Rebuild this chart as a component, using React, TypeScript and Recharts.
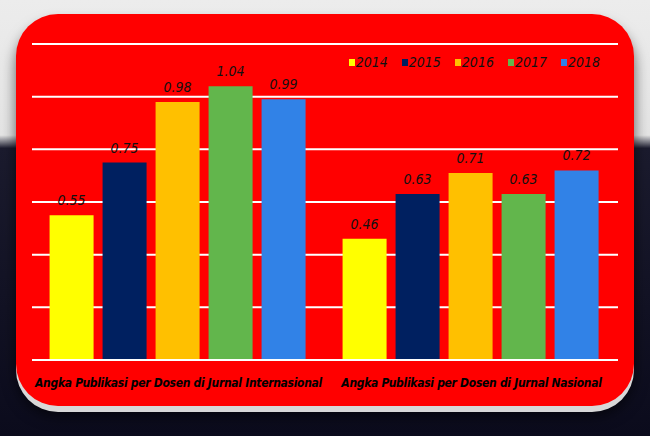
import { BarChart, Bar, XAxis, YAxis, CartesianGrid, Legend, LabelList } from "recharts";

const categories = [
  "Angka Publikasi per Dosen di Jurnal Internasional",
  "Angka Publikasi per Dosen di Jurnal Nasional",
];
const years = ["2014", "2015", "2016", "2017", "2018"];
const v2014 = [0.55, 0.46];
const v2015 = [0.75, 0.63];
const v2016 = [0.98, 0.71];
const v2017 = [1.04, 0.63];
const v2018 = [0.99, 0.72];
const yTicks = [0, 0.2, 0.4, 0.6, 0.8, 1.0, 1.2];

const colors = ["#FFFF00", "#002060", "#FFC000", "#62B64C", "#3182E7"];
const seriesValues = [v2014, v2015, v2016, v2017, v2018];

const data = categories.map((name, i) => {
  const row: Record<string, string | number> = { name };
  years.forEach((y, k) => {
    row[y] = seriesValues[k][i];
  });
  return row;
});

const font = "'DejaVu Sans Condensed', 'Liberation Sans', Arial, sans-serif";

function LegendContent() {
  return (
    <div style={{ display: "flex", justifyContent: "flex-end", gap: 14, paddingRight: 18 }}>
      {years.map((y, i) => (
        <span key={y} style={{ display: "flex", alignItems: "center", gap: 1 }}>
          <span style={{ width: 6, height: 7, background: colors[i], display: "inline-block" }} />
          <span style={{ fontFamily: font, fontStyle: "italic", fontSize: 14, color: "#111" }}>{y}</span>
        </span>
      ))}
    </div>
  );
}

export default function App() {
  return (
    <div
      style={{
        position: "fixed",
        left: 0,
        top: 0,
        width: 650,
        height: 436,
        background: "linear-gradient(to bottom, #ececec 0%, #e4e4e4 31%, #1b1b2e 34%, #0b0b1c 100%)",
        overflow: "hidden",
      }}
    >
      <div
        style={{
          position: "absolute",
          left: 16,
          top: 14,
          width: 618,
          height: 392,
          background: "#FF0000",
          borderRadius: 42,
          boxShadow: "0 6px 0 #d8d8d8, 0 10px 14px rgba(0,0,0,0.6)",
        }}
      >
        <BarChart
          width={618}
          height={392}
          data={data}
          margin={{ top: 14, right: 16, bottom: 16, left: 16 }}
          barCategoryGap="6%"
          barGap={9}
        >
          <CartesianGrid vertical={false} stroke="#ffffff" strokeWidth={2} />
          <YAxis hide domain={[0, 1.2]} ticks={yTicks} />
          <XAxis
            dataKey="name"
            axisLine={{ stroke: "#ffffff", strokeWidth: 2 }}
            tickLine={false}
            interval={0}
            tick={{ fill: "#000", fontFamily: font, fontStyle: "italic", fontWeight: 700, fontSize: 12, letterSpacing: -0.3 }}
            tickMargin={12}
          />
          <Legend verticalAlign="top" align="right" content={<LegendContent />} wrapperStyle={{ top: 40 }} />
          {years.map((y, i) => (
            <Bar key={y} dataKey={y} fill={colors[i]} isAnimationActive={false}>
              <LabelList
                dataKey={y}
                position="top"
                offset={10}
                formatter={(v: number) => v.toFixed(2)}
                style={{ fill: "#111", fontFamily: font, fontStyle: "italic", fontSize: 14 }}
              />
            </Bar>
          ))}
        </BarChart>
      </div>
    </div>
  );
}
